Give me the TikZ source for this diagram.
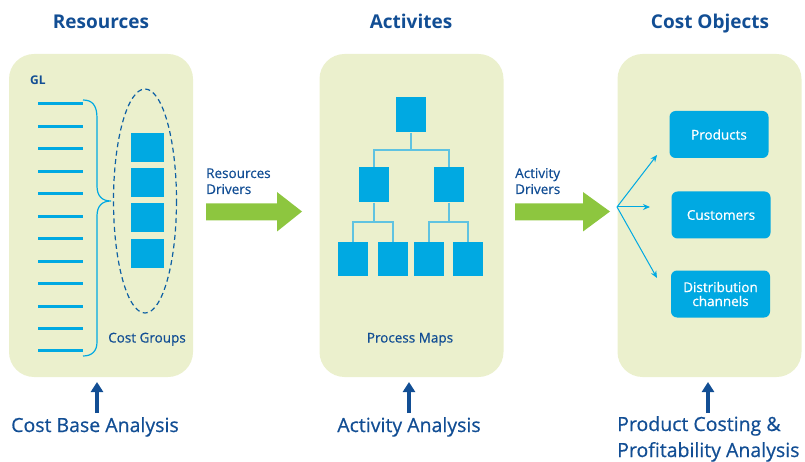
\documentclass[tikz,border=0pt]{standalone}
\usepackage{fontspec}
\setmainfont{Open Sans}
\newfontfamily\medfont[FakeBold=0.6]{Open Sans}
\usetikzlibrary{arrows.meta}
\definecolor{panel}{RGB}{235,240,205}
\definecolor{dblue}{RGB}{18,78,148}
\definecolor{cyanb}{RGB}{0,169,226}
\definecolor{lcyan}{RGB}{95,195,225}
\definecolor{green}{RGB}{141,198,63}
\tikzset{
  panelbox/.style={fill=panel,draw=none,rounded corners=25pt,minimum width=184pt,minimum height=323pt,inner sep=0pt},
  title/.style={text=dblue,font=\bfseries\fontsize{19}{21}\selectfont,anchor=base,inner sep=0pt},
  bottomtxt/.style={text=dblue,font=\medfont\fontsize{19.5}{26.5}\selectfont,align=left,inner sep=0pt},
  small/.style={text=dblue,font=\medfont\fontsize{13.5}{16}\selectfont,align=left,inner sep=0pt},
  sq/.style={fill=cyanb,draw=none,minimum width=30pt,minimum height=35pt,inner sep=0pt},
  cg/.style={fill=cyanb,draw=none,minimum width=33pt,minimum height=29pt,inner sep=0pt},
  objbox/.style={fill=cyanb,draw=none,rounded corners=6pt,minimum width=99pt,minimum height=47pt,inner sep=0pt,text=white,font=\medfont\fontsize{13.5}{16}\selectfont,align=center},
  gl/.style={draw=cyanb,line width=3pt},
  tree/.style={draw=lcyan,line width=1.3pt},
  uparrow/.style={draw=dblue,line width=3.5pt,-{Triangle[length=10pt,width=12pt]}},
  fanarrow/.style={draw=cyanb,line width=1pt,-{Stealth[length=7pt,width=6pt]}},
  drv/.style={fill=green,draw=none}
}
\begin{document}
\begin{tikzpicture}[x=1pt,y=-1pt]
\useasboundingbox (0,0) rectangle (805,462);
% panels
\node[panelbox] (p1) at (101,215.5) {};
\node[panelbox] (p2) at (411.5,215.5) {};
\node[panelbox] (p3) at (709.5,215.5) {};
% titles
\node[title] (t1) at (101,29) {Resources};
\node[title] (t2) at (411,29) {Activites};
\node[title] (t3) at (710,29) {Cost Objects};
% GL
\node[small,font=\bfseries\fontsize{12}{14}\selectfont,anchor=base west] (gl) at (30,84.5) {GL};
\foreach \i in {0,...,11} {
  \coordinate (gla\i) at (38,{104+22.45*\i});
  \coordinate (glb\i) at (83,{104+22.45*\i});
  \draw[gl] (gla\i) -- (glb\i);
}
% brace
\coordinate (bt) at (83,100);
\coordinate (bm) at (111,201);
\coordinate (bb) at (83,356);
\draw[draw=cyanb,line width=1.2pt] (bt) .. controls (92,100) and (97,105) .. (97,118) -- (97,186)
  .. controls (97,196) and (102,201) .. (bm)
  .. controls (102,201) and (97,206) .. (97,216) -- (97,342)
  .. controls (97,351) and (92,356) .. (bb);
% ellipse
\draw[draw=dblue!80!cyanb,line width=1.2pt,dash pattern=on 5pt off 3.5pt] (145,201) ellipse [x radius=31.5,y radius=112];
\node[cg] (c1) at (147.5,147.5) {};
\node[cg] (c2) at (147.5,183) {};
\node[cg] (c3) at (147.5,218) {};
\node[cg] (c4) at (147.5,253.5) {};
\node[small,anchor=base] (cgt) at (147,342.5) {Cost Groups};
% resources drivers
\node[small,anchor=base west] (rd) at (206,178) {Resources};
\node[small,anchor=base west] (rd2) at (206,194) {Drivers};
\path[drv] (206,203.5) -- (277,203.5) -- (277,192) -- (302,211.5) -- (277,231.5) -- (277,220.5) -- (206,220.5) -- cycle;
% process tree
\node[sq] (a) at (411,115) {};
\node[sq] (b1) at (374,185) {};
\node[sq] (b2) at (449,185) {};
\node[sq,minimum height=33pt] (d1) at (353,259) {};
\node[sq,minimum height=33pt] (d2) at (393,259) {};
\node[sq,minimum height=33pt] (d3) at (429,259) {};
\node[sq,minimum height=33pt] (d4) at (468,259) {};
\draw[tree] (a.south) -- (411,150) -| (b1.north);
\draw[tree] (411,150) -| (b2.north);
\draw[tree] (b1.south) -- (374,222) -| (d1.north);
\draw[tree] (374,222) -| (d2.north);
\draw[tree] (b2.south) -- (449,222) -| (d3.north);
\draw[tree] (449,222) -| (d4.north);
\node[small,anchor=base] (pm) at (410,342.5) {Process Maps};
% activity drivers
\node[small,anchor=base west] (ad) at (515,178) {Activity};
\node[small,anchor=base west] (ad2) at (515,194) {Drivers};
\path[drv] (515,203.5) -- (583,203.5) -- (583,192) -- (610,211.5) -- (583,231.5) -- (583,220.5) -- (515,220.5) -- cycle;
% cost objects
\node[objbox] (pr) at (719,134.5) {Products};
\node[objbox] (cu) at (721,215) {Customers};
\node[objbox] (di) at (720.5,294) {Distribution\\[-2pt]channels};
\coordinate (f) at (617,207);
\coordinate (fe1) at (657,155);
\coordinate (fe2) at (650,207);
\coordinate (fe3) at (657,278);
\draw[fanarrow] (f) -- (fe1);
\draw[fanarrow] (f) -- (fe2);
\draw[fanarrow] (f) -- (fe3);
% bottom
\coordinate (u1a) at (97,413); \coordinate (u1b) at (97,382);
\coordinate (u2a) at (409,413); \coordinate (u2b) at (409,382);
\coordinate (u3a) at (708,413); \coordinate (u3b) at (708,382);
\draw[uparrow] (u1a) -- (u1b);
\draw[uparrow] (u2a) -- (u2b);
\draw[uparrow] (u3a) -- (u3b);
\node[bottomtxt,anchor=base] (bt1) at (95,432) {Cost Base Analysis};
\node[bottomtxt,anchor=base] (bt2) at (409,432) {Activity Analysis};
\node[bottomtxt,anchor=base west] (bt3) at (617,431) {Product Costing \&};
\node[bottomtxt,anchor=base west] (bt4) at (617,457) {Profitability Analysis};
\end{tikzpicture}
\end{document}
